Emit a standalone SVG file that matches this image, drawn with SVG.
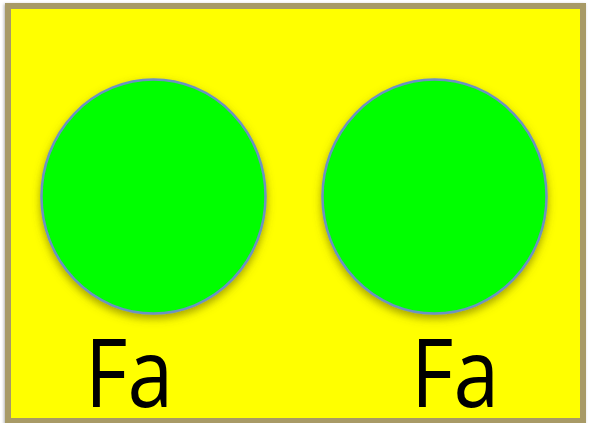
<svg xmlns="http://www.w3.org/2000/svg" width="592" height="423" viewBox="0 0 592 423">
<style>
.node{fill:#00FF00;stroke:#6C92C2;stroke-width:2.5}
.lbl{font-family:"Open Sans","Liberation Sans",sans-serif;font-size:96px;fill:#000}
</style>
<defs>
<filter id="sh" x="-20%" y="-20%" width="140%" height="140%">
<feDropShadow dx="0" dy="4" stdDeviation="4" flood-color="#5a5a00" flood-opacity="0.55"/>
</filter>
<filter id="bsh" x="-5%" y="-5%" width="110%" height="110%">
<feDropShadow dx="-1" dy="1" stdDeviation="1.5" flood-color="#000" flood-opacity="0.3"/>
</filter>
</defs>
<rect x="0" y="0" width="592" height="423" fill="#ffffff"/>
<rect id="background" x="8" y="6" width="575" height="415" fill="#FFFF00" stroke="#A89A66" stroke-width="6" filter="url(#bsh)"/>
<g id="connectors"></g>
<g id="node1">
<ellipse class="node" cx="153.5" cy="196.5" rx="112" ry="117" filter="url(#sh)"/>
<text class="lbl" x="85" y="407" textLength="88" lengthAdjust="spacingAndGlyphs">Fa</text>
</g>
<g id="node2">
<ellipse class="node" cx="434.5" cy="196.5" rx="112" ry="117" filter="url(#sh)"/>
<text class="lbl" x="411" y="407" textLength="88" lengthAdjust="spacingAndGlyphs">Fa</text>
</g>
</svg>
